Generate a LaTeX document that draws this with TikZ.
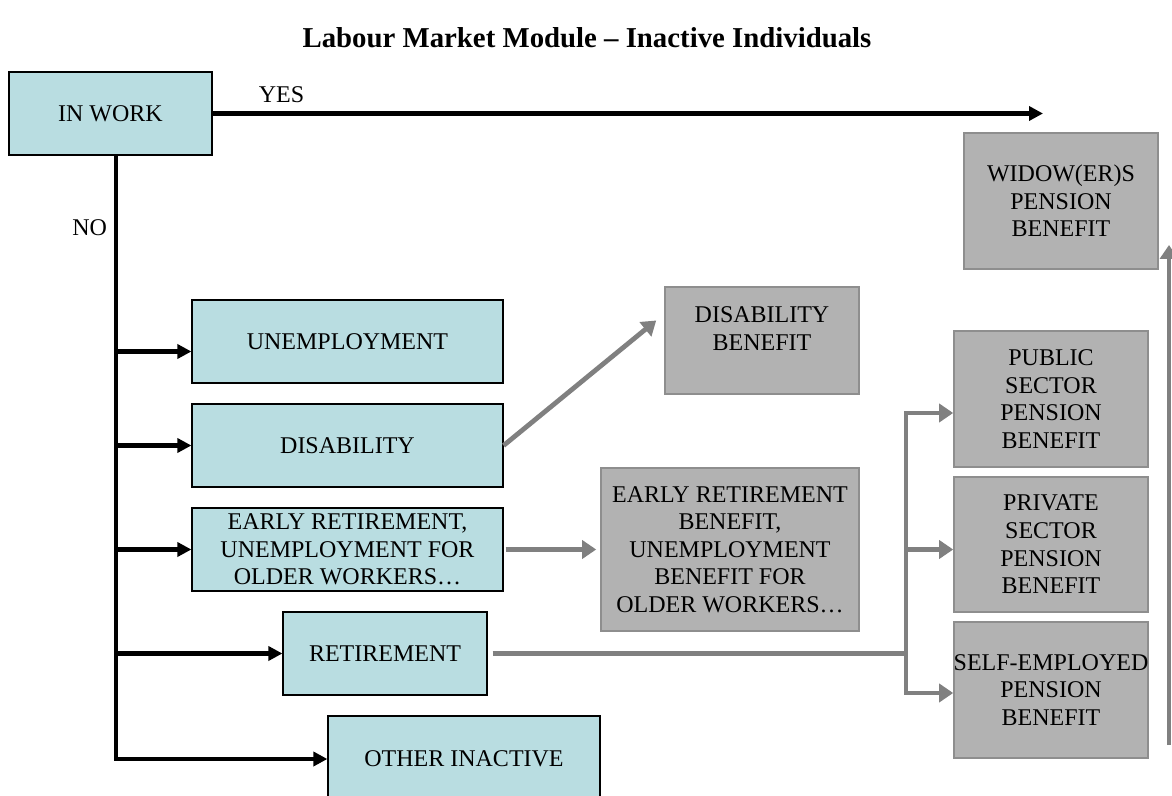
\documentclass[tikz,border=0pt]{standalone}
\usepackage{fontspec}
\setmainfont{Liberation Serif}
\usetikzlibrary{arrows.meta, positioning}
\definecolor{paleblue}{HTML}{B9DDE1}
\definecolor{midgray}{HTML}{B2B2B2}
\definecolor{edgegray}{HTML}{8E8E8E}
\definecolor{arrgray}{HTML}{808080}
\newcommand{\boxfont}{\fontsize{12}{13.8}\selectfont}

\begin{document}
\begin{tikzpicture}[
  x=0.5pt, y=-0.5pt,
  bluebox/.style={draw=black, line width=0.6pt, fill=paleblue, minimum width=#1,
    minimum height=41.5pt, inner sep=1pt, align=center, font=\boxfont},
  greybox/.style={draw=edgegray, line width=0.8pt, fill=midgray, minimum width=97pt,
    minimum height=#1, inner xsep=0pt, align=center, font=\boxfont},
  barr/.style={-{Triangle[length=7pt, width=7pt]}, line width=2.4pt, black},
  garr/.style={-{Triangle[length=7pt, width=9pt]}, line width=2.4pt, arrgray},
  gline/.style={line width=2.4pt, arrgray},
  lbl/.style={font=\boxfont},
]

% Page
\useasboundingbox (0,0) rectangle (1172,796);
\clip (0,0) rectangle (1172,796);
\fill[white] (0,0) rectangle (1172,796);

% Title
\node[font=\fontsize{14.4}{17}\selectfont\bfseries] (title) at (587,38)
  {Labour Market Module – Inactive Individuals};

% === Left column: activity states ===

\node[bluebox=101.5pt] (inwork) at (110.5,113.5) {IN WORK};
\node[bluebox=155.5pt] (unemp) at (347.5,341.5) {UNEMPLOYMENT};
\node[bluebox=155.5pt] (disab) at (347.5,445.5) {DISABILITY};
\node[bluebox=155.5pt] (early) at (347.5,549.5)
  {EARLY RETIREMENT,\\UNEMPLOYMENT FOR\\OLDER WORKERS…};
\node[bluebox=102pt] (retire) at (385,653.5) {RETIREMENT};
\node[bluebox=136pt, minimum height=43pt] (other) at (464,759) {OTHER INACTIVE};

% === Right side: benefits ===

\node[greybox=53.5pt, text depth=12pt] (disben) at (762,340.5) {DISABILITY\\BENEFIT};
\node[greybox=81.5pt, minimum width=129pt] (earlyben) at (730,549.5)
  {EARLY RETIREMENT\\BENEFIT,\\UNEMPLOYMENT\\BENEFIT FOR\\OLDER WORKERS…};
\node[greybox=68pt] (widow) at (1061,201) {WIDOW(ER)S\\PENSION\\BENEFIT};
\node[greybox=68pt] (public) at (1051,399) {PUBLIC\\SECTOR\\PENSION\\BENEFIT};
\node[greybox=67.5pt] (private) at (1051,544.5) {PRIVATE\\SECTOR\\PENSION\\BENEFIT};
\node[greybox=68pt, inner xsep=-3pt] (selfemp) at (1051,690)
  {SELF-EMPLOYED\\PENSION\\BENEFIT};

% Helper points
\coordinate (yesend) at (1043,113.5);
\coordinate (trunk) at (116,758);
\coordinate (unempin) at ([yshift=-5pt]unemp.west);
\coordinate (fork) at (906,653.5);
\coordinate (sidebot) at (1169,745);
\coordinate (sidetop) at (1169,245);

% === Black connectors ===

\draw[barr] (inwork.east) -- (yesend) node[pos=0.083, above=1pt, lbl] {YES};
\draw[barr] (inwork.south -| trunk) |- (other.west) node[pos=0.06, left, lbl] {NO};
\draw[barr] (unempin -| trunk) -- (unempin);
\draw[barr] (disab.west -| trunk) -- (disab.west);
\draw[barr] (early.west -| trunk) -- (early.west);
\draw[barr] (retire.west -| trunk) -- (retire.west);

% === Grey connectors ===

\draw[garr] (disab.east) -- ([xshift=-4pt, yshift=10pt]disben.west);
\draw[garr, shorten <=1pt, shorten >=2pt] (early.east) -- (earlyben.west);
\draw[gline, shorten <=2.5pt] (retire.east) -- (fork);
\draw[garr] (fork) |- ([yshift=-7pt]public.west);
\draw[garr] (fork) |- ([yshift=-2.5pt]private.west);
\draw[garr] (fork) |- ([yshift=-1.5pt]selfemp.west);
\draw[garr] (sidebot) -- (sidetop);

\end{tikzpicture}
\end{document}
